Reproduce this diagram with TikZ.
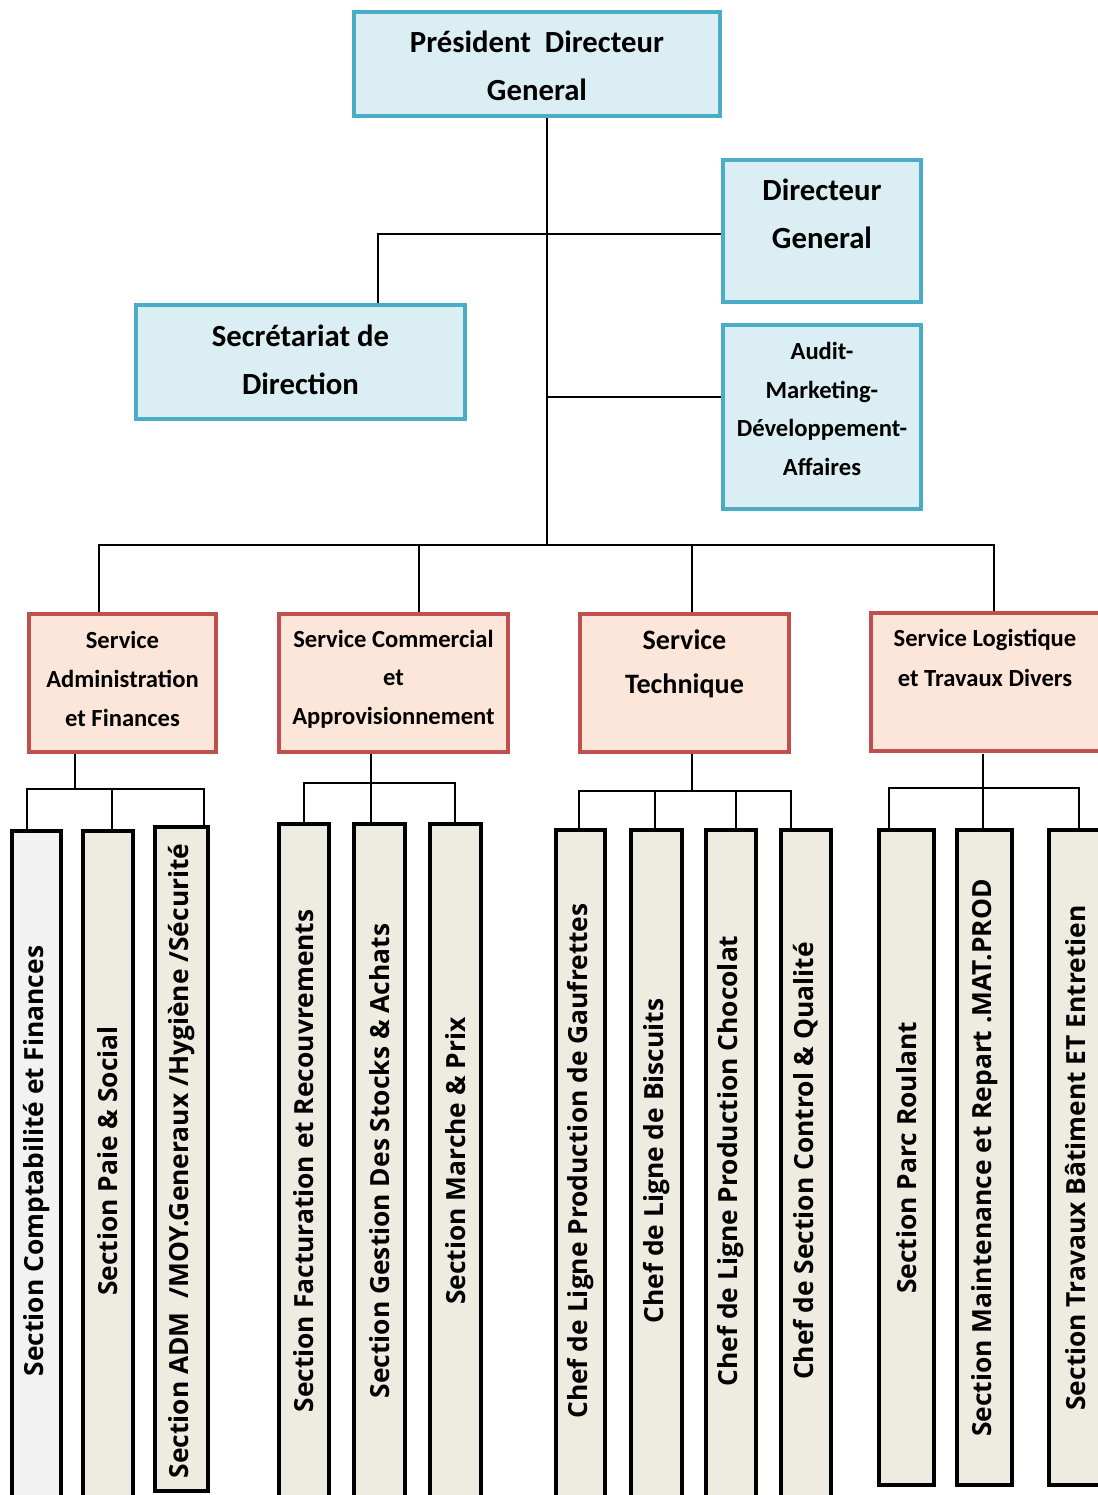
\documentclass[tikz,border=0pt]{standalone}
\usepackage{fontspec}
\setmainfont{Carlito}
\newfontfamily\secfont{Open Sans}
\usepackage{tikz}

\definecolor{bordblue}{HTML}{4BACC6}
\definecolor{fillblue}{HTML}{DAEEF3}
\definecolor{bordred}{HTML}{C0504D}
\definecolor{fillred}{HTML}{FCE6DA}
\definecolor{fillsec}{HTML}{EEECE1}
\definecolor{fillgrey}{HTML}{F2F2F2}

\begin{document}
\begin{tikzpicture}[x=0.02cm,y=-0.02cm,
   bluebox/.style={draw=bordblue,line width=0.08cm,fill=fillblue},
   redbox/.style={draw=bordred,line width=0.08cm,fill=fillred},
   secbox/.style={draw=black,line width=0.09cm,fill=fillsec},
   bigtxt/.style={align=center,font=\bfseries\fontsize{17.5}{27}\selectfont},
   smalltxt/.style={align=center,font=\bfseries\fontsize{14}{22}\selectfont},
   sectxt/.style={rotate=90,font=\secfont\bfseries\fontsize{15}{18}\selectfont},
   link/.style={line width=0.035cm}]
   \useasboundingbox (0,0) rectangle (1098,1495);
   \clip (0,0) rectangle (1098,1495);
   % direction
   \node[bluebox,minimum width=7.32cm,minimum height=2.08cm] (pdg) at (537,64) {};
   \node[bigtxt] (pdgt) at (537,66) {Président\ \ Directeur\\General};
   \node[bluebox,minimum width=3.96cm,minimum height=2.84cm] (dg) at (822,231) {};
   \node[bigtxt] (dgt) at (822,214) {Directeur\\General};
   \node[bluebox,minimum width=6.58cm,minimum height=2.28cm] (sec) at (300.5,362) {};
   \node[bigtxt] (sect) at (300.5,360) {Secrétariat de\\Direction};
   \node[bluebox,minimum width=3.96cm,minimum height=3.68cm] (aud) at (822,417) {};
   \node[smalltxt] (audt) at (822,409) {Audit-\\Marketing-\\Développement-\\Affaires};
   % services
   \node[redbox,minimum width=3.74cm,minimum height=2.76cm] (saf) at (122.5,683) {};
   \node[smalltxt] (saft) at (122.5,679) {Service\\Administration\\et Finances};
   \node[redbox,minimum width=4.58cm,minimum height=2.76cm] (sca) at (393.5,683) {};
   \node[smalltxt] (scat) at (393.5,679) {Service Commercial\\et\\Approvisionnement};
   \node[redbox,minimum width=4.18cm,minimum height=2.76cm] (st) at (684.5,683) {};
   \node[bigtxt,font=\bfseries\fontsize{16}{25}\selectfont] (stt) at (684.5,664) {Service\\Technique};
   \node[redbox,minimum width=5.04cm,minimum height=2.76cm] (slt) at (997,682) {};
   \node[smalltxt,font=\bfseries\fontsize{14}{22.7}\selectfont] (sltt) at (985,658) {Service Logistique\\et Travaux Divers};
   % sections
   \node[secbox,fill=fillgrey,minimum width=0.98cm,minimum height=13.64cm] (a1) at (36.5,1172) {};
   \node[secbox,minimum width=1.00cm,minimum height=13.64cm] (a2) at (108,1172) {};
   \node[secbox,minimum width=1.06cm,minimum height=13.28cm] (a3) at (181.5,1159) {};
   \node[secbox,minimum width=1.00cm,minimum height=13.78cm] (b1) at (304,1168.5) {};
   \node[secbox,minimum width=1.02cm,minimum height=13.78cm] (b2) at (379.5,1168.5) {};
   \node[secbox,minimum width=1.02cm,minimum height=13.78cm] (b3) at (455.5,1168.5) {};
   \node[secbox,minimum width=0.98cm,minimum height=13.66cm] (c1) at (580.5,1171.5) {};
   \node[secbox,minimum width=1.02cm,minimum height=13.66cm] (c2) at (656.5,1171.5) {};
   \node[secbox,minimum width=1.00cm,minimum height=13.66cm] (c3) at (731,1171.5) {};
   \node[secbox,minimum width=1.00cm,minimum height=13.66cm] (c4) at (806,1171.5) {};
   \node[secbox,minimum width=1.10cm,minimum height=13.10cm] (d1) at (906.5,1157.5) {};
   \node[secbox,minimum width=1.10cm,minimum height=13.10cm] (d2) at (984.5,1157.5) {};
   \node[secbox,minimum width=1.58cm,minimum height=13.10cm] (d3) at (1088.5,1157.5) {};
   \node[sectxt] (a1t) at (36.5,1161) {Section Comptabilité et Finances};
   \node[sectxt] (a2t) at (108,1161) {Section Paie \& Social};
   \node[sectxt] (a3t) at (181.5,1161) {Section ADM\ \ /MOY.Generaux /Hygiène /Sécurité};
   \node[sectxt] (b1t) at (304,1161) {Section Facturation et Recouvrements};
   \node[sectxt] (b2t) at (379.5,1161) {Section Gestion Des Stocks \& Achats};
   \node[sectxt] (b3t) at (455.5,1161) {Section Marche \& Prix};
   \node[sectxt] (c1t) at (580.5,1161) {Chef de Ligne Production de Gaufrettes};
   \node[sectxt] (c2t) at (656.5,1161) {Chef de Ligne de Biscuits};
   \node[sectxt] (c3t) at (731,1161) {Chef de Ligne Production Chocolat};
   \node[sectxt] (c4t) at (806,1161) {Chef de Section Control \& Qualité};
   \node[sectxt] (d1t) at (906.5,1158) {Section Parc Roulant};
   \node[sectxt] (d2t) at (984.5,1158) {Section Maintenance et Repart .MAT.PROD};
   \node[sectxt] (d3t) at (1076,1158) {Section Travaux Bâtiment ET Entretien};
   % upper links
   \coordinate (t0) at (547,118);
   \coordinate (hub) at (547,545);
   \coordinate (secin) at (378,303);
   \coordinate (dgin) at (721,234);
   \coordinate (audin) at (721,397);
   \draw[link] (t0) -- (hub);
   \draw[link] (dgin) -| (secin);
   \draw[link] (audin) -- (audin -| t0);
   \coordinate (s1) at (99,612);
   \coordinate (s2) at (419,612);
   \coordinate (s3) at (692,612);
   \coordinate (s4) at (994,611);
   \draw[link] (s1) |- (hub) -| (s4);
   \draw[link] (s2) -- (s2 |- hub);
   \draw[link] (s3) -- (s3 |- hub);
   % section links
   \coordinate (u1) at (75,754);   \coordinate (j1) at (75,789);
   \coordinate (u2) at (371,754);  \coordinate (j2) at (371,783);
   \coordinate (u3) at (692,754);  \coordinate (j3) at (692,791);
   \coordinate (u4) at (983,754);  \coordinate (j4) at (983,788);
   \draw[link] (u1) -- (j1);
   \draw[link] (a1.north -| 27,0) |- (j1) -| (a3.north -| 204,0);
   \draw[link] (a2.north -| 112,0) -- (j1 -| 112,0);
   \draw[link] (u2) -- (j2);
   \draw[link] (b1.north -| 304,0) |- (j2) -| (b3.north -| 455,0);
   \draw[link] (b2.north -| 371,0) -- (j2 -| 371,0);
   \draw[link] (u3) -- (j3);
   \draw[link] (c1.north -| 579,0) |- (j3) -| (c4.north -| 791,0);
   \draw[link] (c2.north -| 655,0) -- (j3 -| 655,0);
   \draw[link] (c3.north -| 736,0) -- (j3 -| 736,0);
   \draw[link] (u4) -- (j4);
   \draw[link] (d1.north -| 889,0) |- (j4) -| (d3.north -| 1079,0);
   \draw[link] (d2.north -| 983,0) -- (j4 -| 983,0);
\end{tikzpicture}
\end{document}
